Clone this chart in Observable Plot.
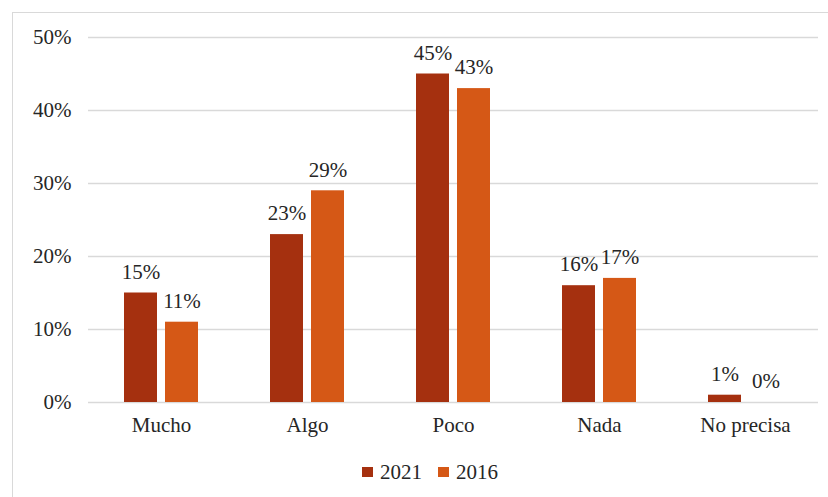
<!DOCTYPE html>
<html>
<head>
<meta charset="utf-8">
<script src="https://cdn.jsdelivr.net/npm/d3@7"></script>
<script src="https://cdn.jsdelivr.net/npm/@observablehq/plot@0.6"></script>
<style>
  html, body { margin: 0; padding: 0; background: #fff; overflow: hidden; width: 828px; height: 497px; }
  #frame { position: absolute; left: 12px; top: 12px; width: 1000px; height: 1000px; border: 1.5px solid #d9d9d9; box-sizing: border-box; }
  #chart { position: absolute; left: 0; top: 0; }
  #legend { position: absolute; left: 362px; top: 461px; font-family: "Liberation Serif", serif; font-size: 21px; color: #262626; display: flex; align-items: center; }
  .sw { display: inline-block; width: 11px; height: 10px; margin-right: 7px; }
  .item { display: flex; align-items: center; margin-right: 16px; line-height: 22px; }
</style>
</head>
<body>
<div id="frame"></div>
<div id="chart"></div>
<div id="legend"></div>
<script>
const categories = ["Mucho", "Algo", "Poco", "Nada", "No precisa"];
const series = ["2021", "2016"];
const values2021 = [15, 23, 45, 16, 1];
const values2016 = [11, 29, 43, 17, 0];
const colors = ["#A5300F", "#D55816"];
const yTicks = [0, 10, 20, 30, 40, 50];

const data = [];
categories.forEach((c, i) => {
  data.push({category: c, series: "2021", value: values2021[i]});
  data.push({category: c, series: "2016", value: values2016[i]});
});

const font = "Liberation Serif, serif";

const chart = Plot.plot({
  width: 828,
  height: 455,
  marginLeft: 87,
  marginRight: 10,
  marginTop: 37,
  marginBottom: 53,
  style: {fontFamily: font, fontSize: "21px", color: "#262626", background: "transparent"},
  fx: {domain: categories, padding: 0, label: null, tickSize: 0, tickPadding: 15},
  x: {domain: series, axis: null, paddingInner: 0.2, paddingOuter: 0.88},
  y: {domain: [0, 50], ticks: yTicks, tickFormat: d => d + "%", tickSize: 0, tickPadding: 17, label: null},
  color: {domain: series, range: colors},
  marks: [
    Plot.gridY(yTicks, {stroke: "#d9d9d9", strokeOpacity: 1, strokeWidth: 1.5}),
    Plot.barY(data, {fx: "category", x: "series", y: "value", fill: "series"}),
    Plot.text(data, {fx: "category", x: "series", y: "value", text: d => d.value + "%", dy: -21, fill: "#262626", fontSize: 21})
  ]
});
document.getElementById("chart").appendChild(chart);

const legend = document.getElementById("legend");
series.forEach((s, i) => {
  const item = document.createElement("div");
  item.className = "item";
  const sw = document.createElement("span");
  sw.className = "sw";
  sw.style.background = colors[i];
  item.appendChild(sw);
  item.appendChild(document.createTextNode(s));
  legend.appendChild(item);
});
</script>
</body>
</html>
